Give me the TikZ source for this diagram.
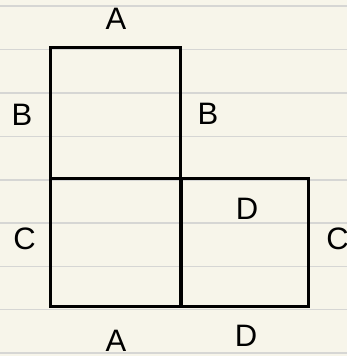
\documentclass[tikz,border=0pt]{standalone}
\usepackage{fontspec}
\setmainfont{Liberation Sans}
\definecolor{paper}{RGB}{247,245,234}
\definecolor{rule}{RGB}{214,214,212}
\usetikzlibrary{positioning}

\begin{document}
\begin{tikzpicture}[x=1pt, y=-1pt,
    sq/.style={draw=black, line width=3pt, inner sep=0pt, rectangle},
    lbl/.style={anchor=base, inner sep=0pt, font=\fontsize{31}{31}\selectfont}]
  % Paper
  \fill[paper] (0,0) rectangle (347,356);
  \useasboundingbox (0,0) rectangle (347,356);

  % Ruled lines
  \foreach \y in {6,49.5,93,136.5,180,223,266.5,309.5,353}
    \draw[rule, line width=1.3pt] (0,\y) -- (347,\y);

  % Squares
  \node[sq, minimum width=130pt, minimum height=131pt] (top) at (115,112.5) {};
  \node[sq, minimum width=130pt, minimum height=128pt] (left) at (115,242) {};
  \node[sq, minimum width=127pt, minimum height=128pt] (right) at (244.5,242) {};

  % Edge labels
  \node[lbl] (topA) at (116,29) {A};
  \node[lbl] (topBl) at (22,125) {B};
  \node[lbl] (topBr) at (208,124.5) {B};
  \node[lbl] (leftC) at (24.5,249.5) {C};
  \node[lbl] (rightD) at (247,219) {D};
  \node[lbl] (rightC) at (337.5,249.5) {C};
  \node[lbl] (botA) at (116,351) {A};
  \node[lbl] (botD) at (246,346.5) {D};
\end{tikzpicture}
\end{document}
